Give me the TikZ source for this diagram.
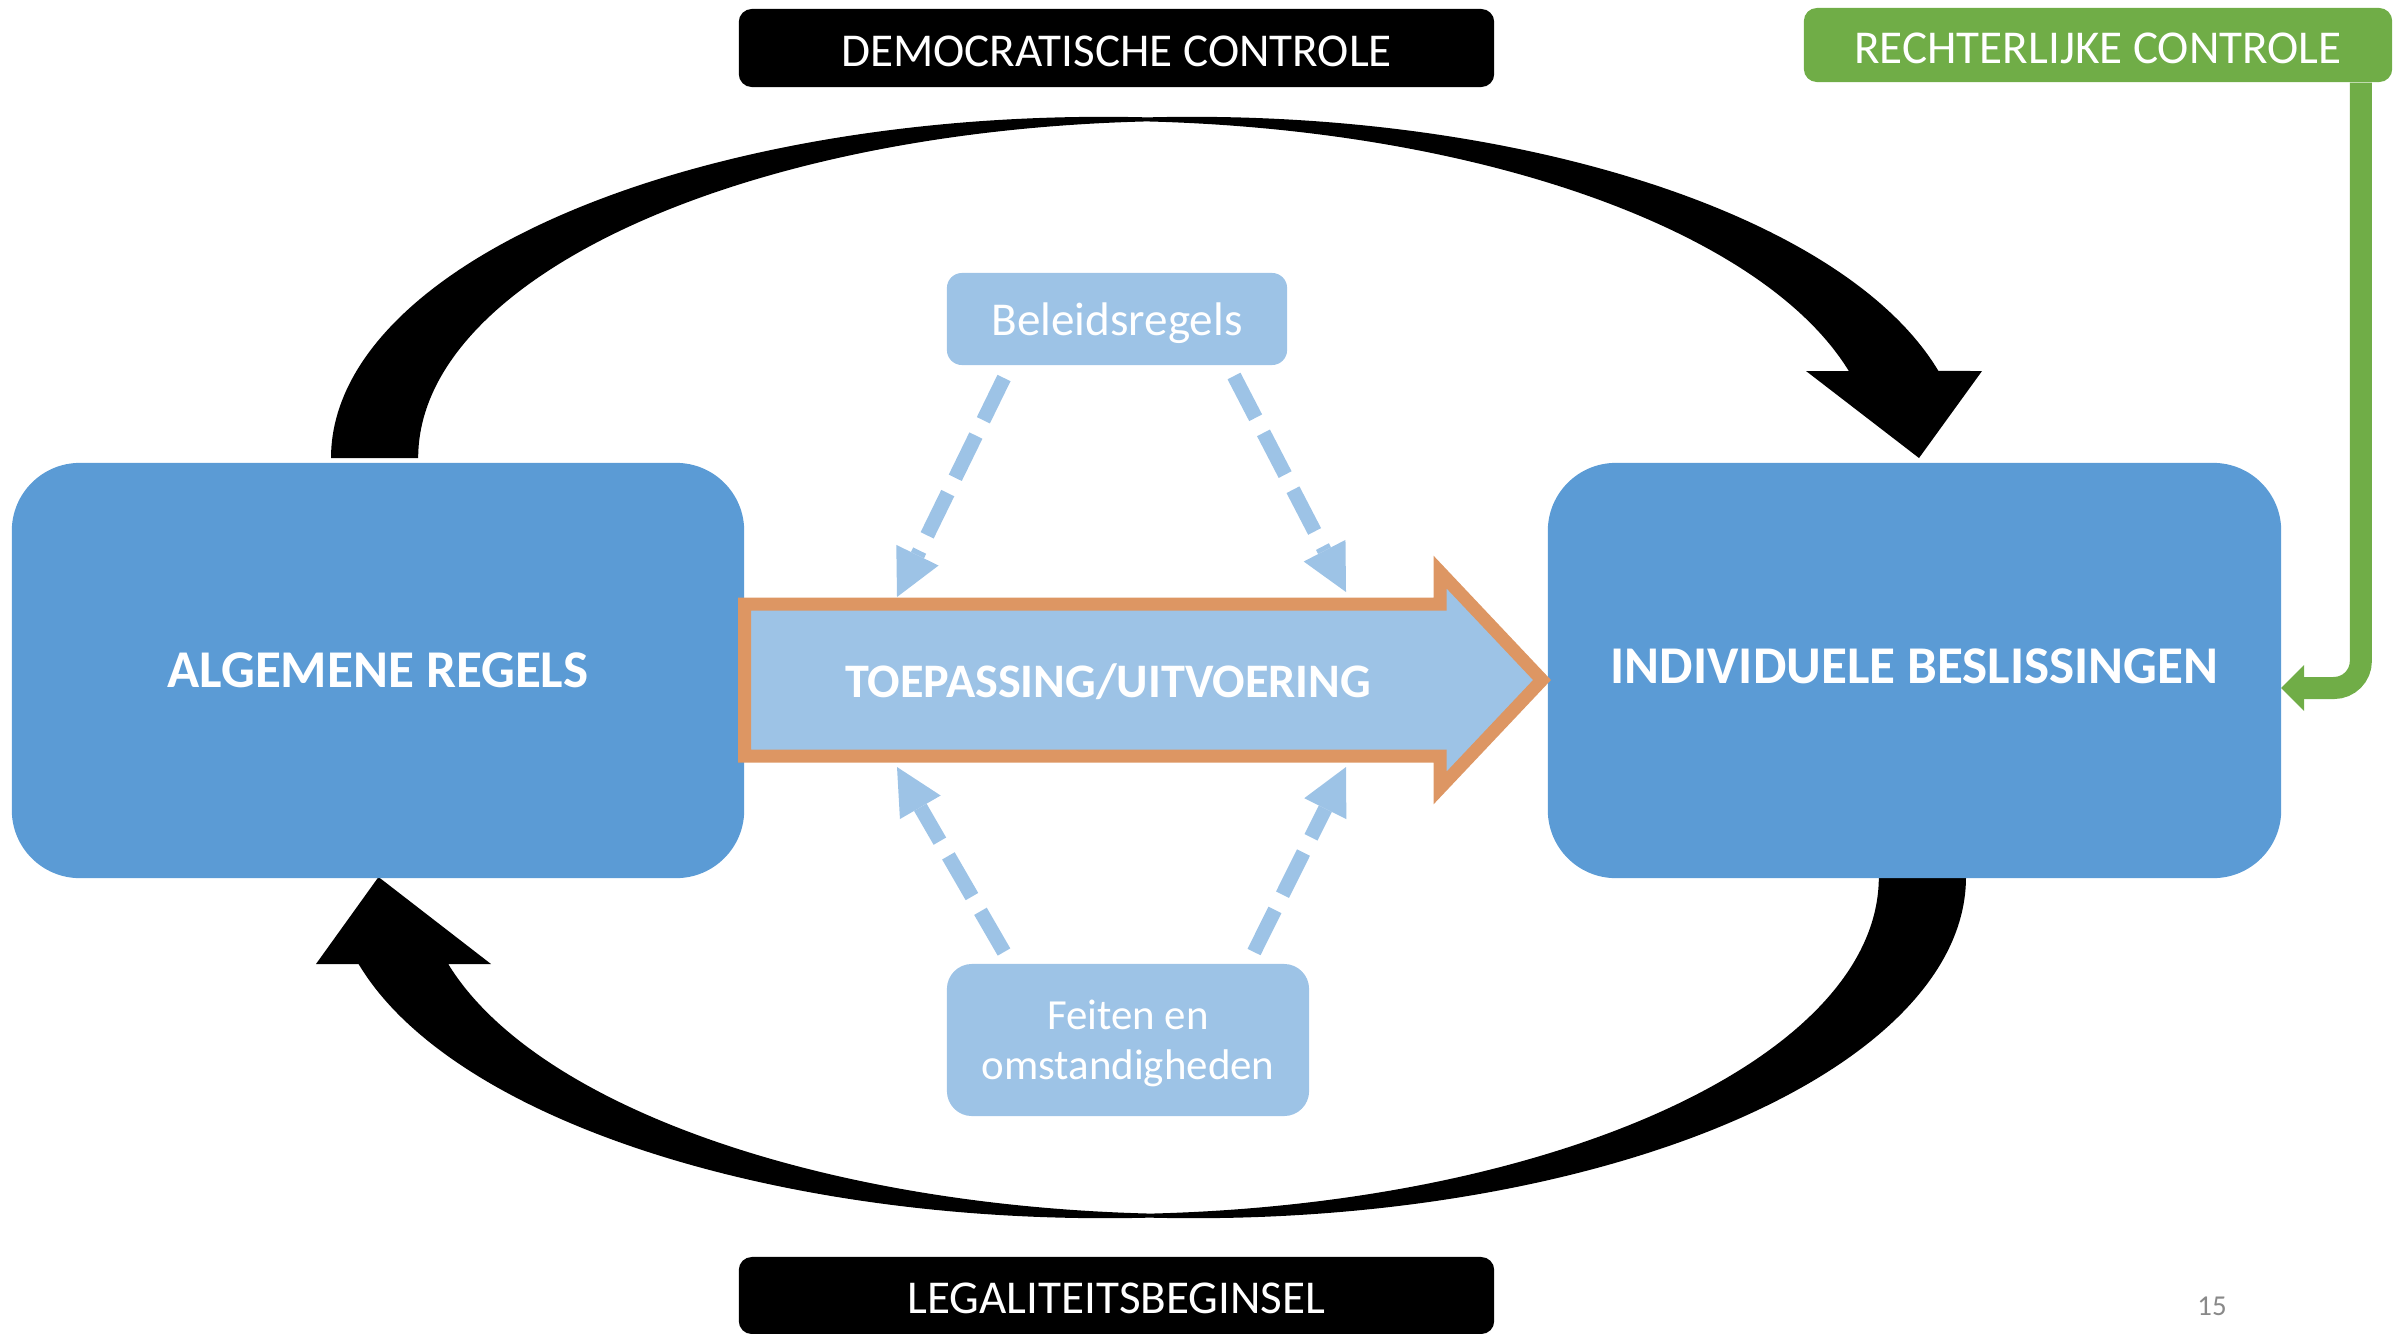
\documentclass[tikz,border=0pt]{standalone}
\usepackage{fontspec}
\setmainfont{Carlito}
\usetikzlibrary{arrows.meta}
\definecolor{boxblue}{HTML}{5B9BD5}
\definecolor{lightblue}{HTML}{9DC3E6}
\definecolor{orangeline}{HTML}{DD9663}
\definecolor{ggreen}{HTML}{70AD47}
\definecolor{pgrey}{HTML}{898989}
\begin{document}
\begin{tikzpicture}[x=0.01cm,y=0.01cm,
  bigbox/.style={fill=boxblue, rounded corners=0.68cm, inner sep=0pt,
    minimum width=7.32cm, minimum height=4.15cm, text=white,
    font=\fontsize{15.1}{18}\selectfont\bfseries},
  smallbox/.style={fill=lightblue, inner sep=0pt, text=white, align=center},
  labelbox/.style={inner sep=0pt, rounded corners=0.13cm, text=white,
    text height=10.3pt, text depth=0pt,
    font=\fontsize{13.4}{16}\selectfont},
  dashline/.style={draw=lightblue, line width=0.145cm,
    dash pattern=on 0.47cm off 0.17cm,
    -{Triangle[length=0.465cm,width=0.47cm,line width=0pt]}},
  band/.style={fill=black},
  greenline/.style={draw=ggreen, line width=0.22cm, rounded corners=0.27cm,
    -{Triangle[length=0.23cm,width=0.46cm,line width=0pt]}},
]
\useasboundingbox (0,0) rectangle (2394,-1333);

% top curved arrow (democratische controle)
\fill[band] (331,-458)
  arc[start angle=180, end angle=86.73, x radius=7.72cm, y radius=3.41cm]
  arc[start angle=93.27, end angle=14.78, x radius=7.72cm, y radius=3.41cm]
  -- (1982,-371) -- (1919,-458) -- (1806,-371) -- (1848.8,-371)
  arc[start angle=14.96, end angle=86.73, x radius=7.72cm, y radius=3.37cm]
  arc[start angle=93.27, end angle=180, x radius=7.72cm, y radius=3.37cm]
  -- cycle;

% bottom curved arrow (legaliteitsbeginsel)
\fill[band] (1966,-877)
  arc[start angle=360, end angle=266.73, x radius=7.72cm, y radius=3.41cm]
  arc[start angle=273.27, end angle=194.78, x radius=7.72cm, y radius=3.41cm]
  -- (316,-964) -- (378.5,-877) -- (491,-964) -- (448.2,-964)
  arc[start angle=194.96, end angle=266.73, x radius=7.72cm, y radius=3.37cm]
  arc[start angle=273.27, end angle=360, x radius=7.72cm, y radius=3.37cm]
  -- cycle;

% big boxes
\node[bigbox] (alg) at (378,-670.5) {ALGEMENE REGELS};
\node[bigbox, minimum width=7.33cm, text depth=2.8pt] (ind) at (1914.5,-670.5) {INDIVIDUELE BESLISSINGEN};

% block arrow
\draw[draw=orangeline, fill=lightblue, line width=0.13cm, line join=miter]
  (744.5,-604) -- (1440,-604) -- (1440,-572) -- (1542,-680)
  -- (1440,-788) -- (1440,-756) -- (744.5,-756) -- cycle;
\node[text=white, inner sep=0pt, text depth=0pt, font=\fontsize{13.7}{16}\selectfont\bfseries]
  (toep) at (1108,-681) {TOEPASSING/UITVOERING};

% small boxes
\node[smallbox, rounded corners=0.15cm, minimum width=3.40cm, minimum height=0.92cm,
  text depth=0pt, font=\fontsize{13.4}{16}\selectfont] (bel) at (1117,-319) {Beleidsregels};
\node[smallbox, rounded corners=0.25cm, minimum width=3.62cm, minimum height=1.52cm,
  text depth=0pt, font=\fontsize{12.2}{14.2}\selectfont] (fei) at (1128,-1040) {Feiten en\\omstandigheden};

% dashed connectors
\coordinate (b1s) at (1004,-378); \coordinate (b1e) at (897,-597);
\coordinate (b2s) at (1234,-376); \coordinate (b2e) at (1346,-592);
\coordinate (f1s) at (1004,-952); \coordinate (f1e) at (897,-767);
\coordinate (f2s) at (1254,-952); \coordinate (f2e) at (1346,-767);
\draw[dashline] (b1s) -- (b1e);
\draw[dashline] (b2s) -- (b2e);
\draw[dashline] (f1s) -- (f1e);
\draw[dashline] (f2s) -- (f2e);

% label boxes
\node[labelbox, fill=black, minimum width=7.55cm, minimum height=0.78cm]
  (dem) at (1116.5,-48) {DEMOCRATISCHE CONTROLE};
\node[labelbox, fill=ggreen, minimum width=5.88cm, minimum height=0.74cm]
  (rc) at (2098,-45) {RECHTERLIJKE CONTROLE};
\node[labelbox, fill=black, minimum width=7.55cm, minimum height=0.77cm]
  (leg) at (1116.5,-1295.5) {LEGALITEITSBEGINSEL};

% green connector
\coordinate (gtip) at (2281,-688);
\draw[greenline] ([xshift=-0.32cm]rc.south east) |- (gtip);

% page number
\node[text=pgrey, inner sep=0pt, font=\fontsize{8.2}{10}\selectfont] (pg) at (2212,-1306) {15};
\end{tikzpicture}
\end{document}
